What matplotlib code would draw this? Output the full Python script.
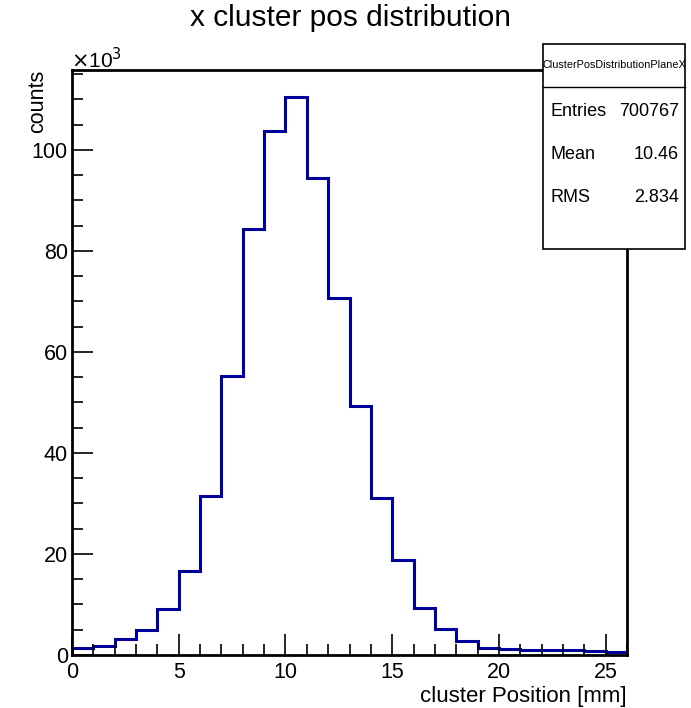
import numpy as np
import matplotlib.pyplot as plt
from matplotlib.ticker import MultipleLocator, FuncFormatter

plt.rcParams['font.family'] = ['Liberation Sans', 'DejaVu Sans']

# bin edges 0..26 mm, 1 mm wide
edges = np.arange(0, 27, 1)
# counts per bin (in thousands)
counts_k = [1.4, 1.8, 3.1, 4.9, 9.2, 16.7, 31.5, 55.2, 84.4, 103.8, 110.4, 94.5, 70.7,
            49.3, 31.1, 18.8, 9.4, 5.1, 2.8, 1.4, 1.1, 0.9, 0.9, 0.9, 0.7, 0.6]
counts = np.array(counts_k) * 1000

stats_name = 'ClusterPosDistributionPlaneX'
stats_rows = [('Entries', '700767'), ('Mean', '10.46'), ('RMS', '2.834')]

fig = plt.figure(figsize=(6.91, 7.08), dpi=100)
ax = fig.add_axes([72/691, 1-655/708, 555/691, 585/708])

ax.stairs(counts, edges, color='#00009b', lw=2.2)

ax.set_xlim(0, 26)
ax.set_ylim(0, 115800)
ax.xaxis.set_major_locator(MultipleLocator(5))
ax.xaxis.set_minor_locator(MultipleLocator(1))
ax.yaxis.set_major_locator(MultipleLocator(20000))
ax.yaxis.set_minor_locator(MultipleLocator(5000))
ax.yaxis.set_major_formatter(FuncFormatter(lambda v, p: '%d' % round(v/1000)))
ax.tick_params(which='both', direction='in', top=False, right=False, labelsize=15.5, width=1.2)
ax.tick_params(which='major', length=15)
ax.tick_params(which='minor', length=8)
ax.tick_params(axis='x', pad=5)
ax.tick_params(axis='y', pad=3)
for s in ax.spines.values():
    s.set_linewidth(2)

fig.text(71/691, 1-68/708, r'$\times$10$^3$', fontsize=15, ha='left', va='baseline')
fig.suptitle('x cluster pos distribution', x=350/691, y=1-18/708, va='center', fontsize=21.5)
ax.set_xlabel('cluster Position [mm]', fontsize=16, loc='right', labelpad=2)
ax.set_ylabel('counts', fontsize=15.5, loc='top')
ax.yaxis.set_label_coords(-0.043, 1.0)

# stats box
bx0, bx1 = 543/691, 685/691
by_top, by_mid, by_bot = 1-44/708, 1-87/708, 1-249/708
fig.patches.append(plt.Rectangle((bx0, by_bot), bx1-bx0, by_top-by_bot, transform=fig.transFigure,
                                 fc='white', ec='black', lw=1.2, zorder=5))
fig.lines.append(plt.Line2D([bx0, bx1], [by_mid, by_mid], transform=fig.transFigure, color='black', lw=1, zorder=6))
fig.text((bx0+bx1)/2, (by_top+by_mid)/2, stats_name, fontsize=7.8, ha='center', va='center', zorder=7)
for i, (k, v) in enumerate(stats_rows):
    yy = 1 - (111 + i*43.5)/708
    fig.text(550/691, yy, k, fontsize=13, ha='left', va='center', zorder=7)
    fig.text(679/691, yy, v, fontsize=13, ha='right', va='center', zorder=7)

fig.savefig('out.png', dpi=100)
